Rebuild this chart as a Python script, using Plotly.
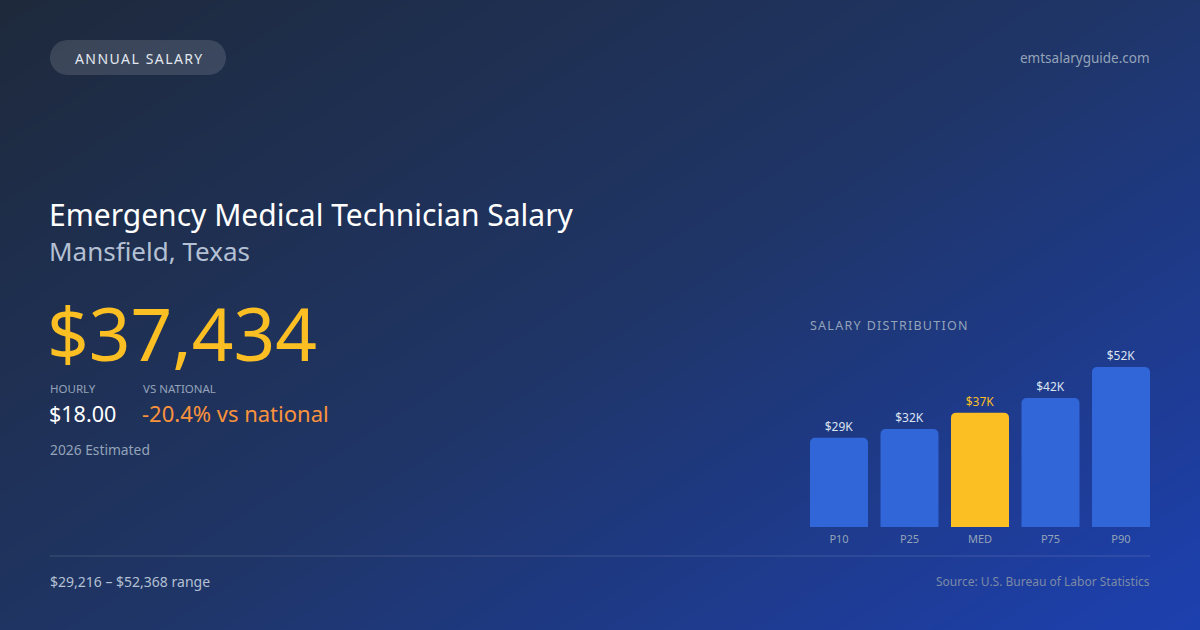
import numpy as np
import plotly.graph_objects as go

categories = ["P10", "P25", "MED", "P75", "P90"]
values = [29216, 32100, 37434, 42200, 52368]
labels = ["$29K", "$32K", "$37K", "$42K", "$52K"]

W, H = 1200, 630
def px(x): return x / W
def py(y): return 1 - y / H

fig = go.Figure()

nx, ny = 60, 32
gx = np.linspace(0, 1, nx)
gy = np.linspace(0, 1, ny)
X, Y = np.meshgrid(gx, gy)
t = np.clip(0.55 * X + 0.45 * (1 - Y), 0, 1)
fig.add_trace(go.Heatmap(z=t, x=gx, y=gy, xaxis="x", yaxis="y", showscale=False,
                         hoverinfo="skip", zsmooth="best",
                         colorscale=[[0, "#1e293b"], [0.5, "#1f3566"], [1, "#1d40b0"]]))

BW = 0.823
bar_colors = ["#3066d8"] * 5
bar_colors[2] = "#fbbf24"
text_colors = ["#dbe3f0"] * 5
text_colors[2] = "#fbbf24"
fig.add_trace(go.Bar(x=categories, y=values, xaxis="x2", yaxis="y2",
                     marker=dict(color=bar_colors, cornerradius=5, line=dict(width=0)),
                     text=labels, textposition="outside", cliponaxis=False,
                     textfont=dict(color=text_colors, size=12, family="Noto Sans"),
                     width=BW, hoverinfo="skip"))

fig.update_layout(
    width=W, height=H, margin=dict(l=0, r=0, t=0, b=0),
    paper_bgcolor="#1e2b45", plot_bgcolor="rgba(0,0,0,0)", showlegend=False,
    font=dict(family="Noto Sans"),
    xaxis=dict(domain=[0, 1], range=[0, 1], visible=False, fixedrange=True),
    yaxis=dict(domain=[0, 1], range=[0, 1], visible=False, fixedrange=True),
    xaxis2=dict(domain=[px(810), px(1150)], anchor="y2", range=[-BW/2, 4 + BW/2],
                showgrid=False, zeroline=False, showline=False, ticklabelstandoff=4,
                tickfont=dict(color="#94a3b8", size=11), ticks="", ticklen=0),
    yaxis2=dict(domain=[py(527), py(343.7)], anchor="x2", range=[0, 60000], visible=False),
)

r = 17.5
theta = np.linspace(-np.pi/2, np.pi/2, 24)
rx = [226 - r + r*np.cos(a) for a in theta] + [50 + r - r*np.cos(a) for a in -theta]
ry = [57.5 + r*np.sin(a) for a in theta] + [57.5 + r*np.sin(a) for a in -theta]
pp = "M " + " L ".join(f"{px(a)},{py(b)}" for a, b in zip(rx, ry)) + " Z"
fig.add_shape(type="path", xref="paper", yref="paper", path=pp,
              fillcolor="rgba(255,255,255,0.13)", line=dict(width=0), layer="above")
fig.add_shape(type="line", xref="paper", yref="paper", x0=px(50), x1=px(1150), y0=py(556), y1=py(556),
              line=dict(color="rgba(255,255,255,0.15)", width=1))

def ann(text, x, y, size, color, xanchor="left", yanchor="middle"):
    fig.add_annotation(text=text, x=px(x), y=py(y), xref="paper", yref="paper", showarrow=False,
                       xanchor=xanchor, yanchor=yanchor, borderpad=0,
                       font=dict(size=size, color=color, family="Noto Sans"))

ann("A\u200aN\u200aN\u200aU\u200aA\u200aL\u2002S\u200aA\u200aL\u200aA\u200aR\u200aY", 138, 58, 14, "#e2e8f0", "center")
ann("emtsalaryguide.com", 1151, 58, 13.5, "#94a3b8", "right")
ann("Emergency Medical Technician Salary", 48, 214, 30, "#ffffff")
ann("Mansfield, Texas", 48, 251, 26, "#b4c0d3")
ann("$37,434", 46, 332, 73, "#fbbf24")
ann("HOURLY", 49, 388, 11.5, "#94a3b8")
ann("VS NATIONAL", 142, 388, 11.5, "#94a3b8")
ann("$18.00", 48, 413, 21.5, "#ffffff")
ann("-20.4% vs national", 141, 413, 22, "#fb923c")
ann("2026 Estimated", 49, 449, 13.8, "#94a3b8")
ann("S\u200aA\u200aL\u200aA\u200aR\u200aY\u2002D\u200aI\u200aS\u200aT\u200aR\u200aI\u200aB\u200aU\u200aT\u200aI\u200aO\u200aN", 809, 325, 12.5, "#94a3b8")
ann("$29,216 – $52,368 range", 49, 581, 14, "#b4c0d3")
ann("Source: U.S. Bureau of Labor Statistics", 1151, 581, 12, "#7c8aa5", "right")

fig.write_html("out.html", config={"displayModeBar": False, "staticPlot": True})
with open("out.html", "r", encoding="utf-8") as f:
    html = f.read()
html = html.replace("<head>", "<head><style>html,body{margin:0;padding:0;overflow:hidden;}</style>", 1)
with open("out.html", "w", encoding="utf-8") as f:
    f.write(html)
